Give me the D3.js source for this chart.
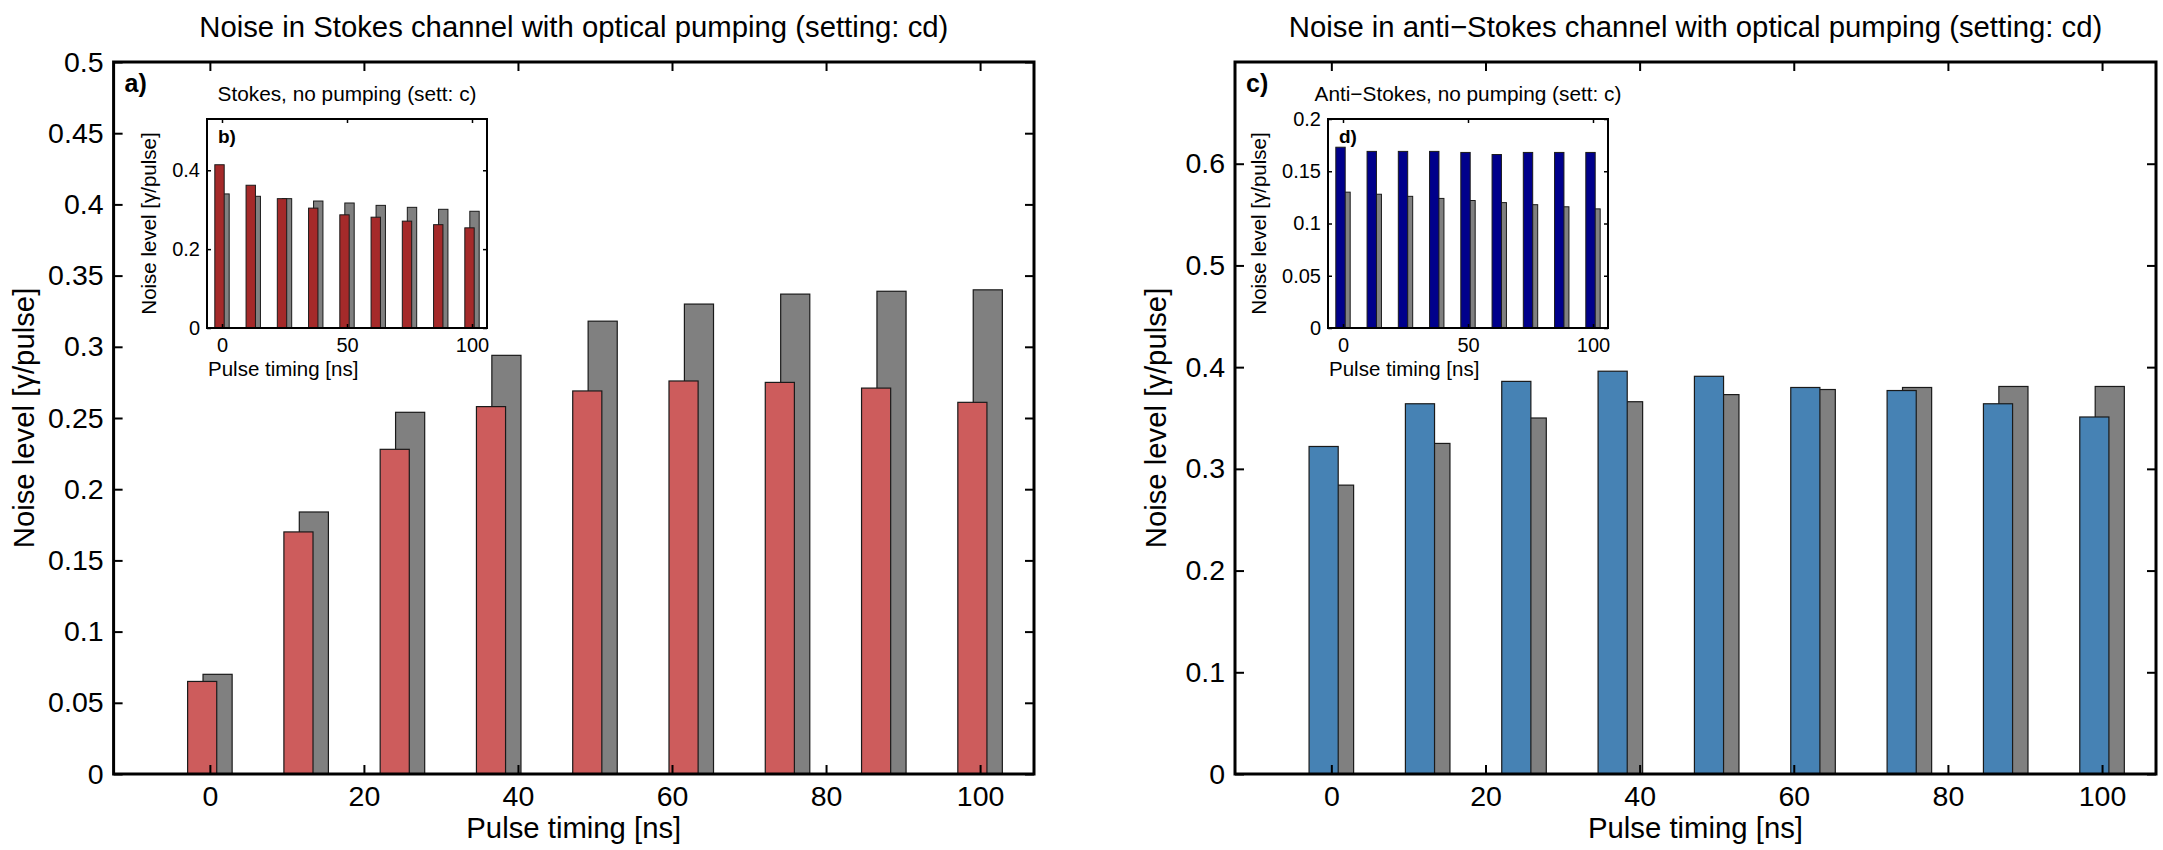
<!DOCTYPE html>
<html>
<head>
<meta charset="utf-8">
<script src="https://cdn.jsdelivr.net/npm/d3@7"></script>
<style>
  body { margin: 0; background: #fff; }
  svg text { font-family: "Liberation Sans", Arial, Helvetica, sans-serif; fill: #000; }
</style>
</head>
<body>
<svg id="chart" width="2163" height="850"></svg>
<script>

/* Noise level vs pulse timing, with and without optical pumping */

// pulse timings [ns]
let timing = [0, 12.5, 25, 37.5, 50, 62.5, 75, 87.5, 100];

// a) Stokes channel, optical pumping (setting cd) + grey reference
let stokesPumped = [0.065, 0.170, 0.228, 0.258, 0.269, 0.276, 0.275, 0.271, 0.261];
let stokesPumpedRef = [0.070, 0.184, 0.254, 0.294, 0.318, 0.330, 0.337, 0.339, 0.340];

// b) Stokes, no pumping (setting c)
let stokesNoPump = [0.414, 0.362, 0.328, 0.304, 0.287, 0.281, 0.271, 0.262, 0.254];
let stokesNoPumpRef = [0.340, 0.334, 0.328, 0.322, 0.317, 0.311, 0.306, 0.301, 0.296];

// c) anti-Stokes channel, optical pumping (setting cd)
let antiPumped = [0.322, 0.364, 0.386, 0.396, 0.391, 0.380, 0.377, 0.364, 0.351];
let antiPumpedRef = [0.284, 0.325, 0.350, 0.366, 0.373, 0.378, 0.380, 0.381, 0.381];

// d) anti-Stokes, no pumping (setting c)
let antiNoPump = [0.173, 0.169, 0.169, 0.169, 0.168, 0.166, 0.168, 0.168, 0.168];
let antiNoPumpRef = [0.130, 0.128, 0.126, 0.124, 0.122, 0.120, 0.118, 0.116, 0.114];

// tick values
let xTicksMain = [0, 20, 40, 60, 80, 100];
let xTicksInset = [0, 50, 100];
let yTicksA = [0, 0.05, 0.1, 0.15, 0.2, 0.25, 0.3, 0.35, 0.4, 0.45, 0.5];
let yTicksB = [0, 0.2, 0.4];
let yTicksC = [0, 0.1, 0.2, 0.3, 0.4, 0.5, 0.6];
let yTicksD = [0, 0.05, 0.1, 0.15, 0.2];

let svg = d3.select("#chart");

function drawAxes(cfg) {
    let g = svg.append("g");

    let xScale = d3.scaleLinear().domain(cfg.xDomain).range([cfg.left, cfg.right]);
    let yScale = d3.scaleLinear().domain(cfg.yDomain).range([cfg.bottom, cfg.top]);

    // white background (insets sit on top of the main plot)
    g.append("rect")
        .attr("x", cfg.left).attr("y", cfg.top)
        .attr("width", cfg.right - cfg.left)
        .attr("height", cfg.bottom - cfg.top)
        .attr("fill", "#fff");

    let unit = xScale(1) - xScale(0);

    // grey reference bars first, coloured ones on top
    g.selectAll(".ref")
        .data(cfg.ref)
        .enter()
        .append("rect")
        .attr("x", function (d, i) { return xScale(timing[i] + 1 - cfg.barW / 2); })
        .attr("y", function (d) { return yScale(d); })
        .attr("width", cfg.barW * unit)
        .attr("height", function (d) { return yScale(0) - yScale(d); })
        .attr("fill", "#808080")
        .attr("stroke", "#1a1a1a")
        .attr("stroke-width", cfg.barStroke);

    g.selectAll(".val")
        .data(cfg.values)
        .enter()
        .append("rect")
        .attr("x", function (d, i) { return xScale(timing[i] - 1 - cfg.barW / 2); })
        .attr("y", function (d) { return yScale(d); })
        .attr("width", cfg.barW * unit)
        .attr("height", function (d) { return yScale(0) - yScale(d); })
        .attr("fill", cfg.color)
        .attr("stroke", "#1a1a1a")
        .attr("stroke-width", cfg.barStroke);

    // axes, ticks pointing inward
    let fmt = function (d) { return String(d); };
    let axes = [
        { ax: d3.axisBottom(xScale).tickValues(cfg.xTicks).tickFormat(fmt), tr: "translate(0," + cfg.bottom + ")" },
        { ax: d3.axisTop(xScale).tickValues(cfg.xTicks).tickFormat(""), tr: "translate(0," + cfg.top + ")" },
        { ax: d3.axisLeft(yScale).tickValues(cfg.yTicks).tickFormat(fmt), tr: "translate(" + cfg.left + ",0)" },
        { ax: d3.axisRight(yScale).tickValues(cfg.yTicks).tickFormat(""), tr: "translate(" + cfg.right + ",0)" }
    ];
    axes.forEach(function (a, k) {
        let ga = g.append("g")
            .attr("transform", a.tr)
            .call(a.ax.tickSizeInner(-cfg.tickLen).tickSizeOuter(0).tickPadding(k == 0 ? cfg.xPad : cfg.yPad));
        ga.select(".domain").remove();
        ga.selectAll(".tick line").attr("stroke", "#000").attr("stroke-width", cfg.tickWidth);
        ga.selectAll(".tick text")
            .attr("font-size", cfg.tickFont)
            .attr("font-family", null);
    });

    g.append("rect")
        .attr("x", cfg.left).attr("y", cfg.top)
        .attr("width", cfg.right - cfg.left)
        .attr("height", cfg.bottom - cfg.top)
        .attr("fill", "none")
        .attr("stroke", "#000")
        .attr("stroke-width", cfg.boxWidth);

    // title
    g.append("text")
        .attr("x", (cfg.left + cfg.right) / 2)
        .attr("y", cfg.titleY)
        .attr("text-anchor", "middle")
        .attr("font-size", cfg.titleFont)
        .text(cfg.title);

    // x label
    g.append("text")
        .attr("x", cfg.xLabelAnchor == "start" ? cfg.left + 1 : (cfg.left + cfg.right) / 2)
        .attr("y", cfg.xLabelY)
        .attr("text-anchor", cfg.xLabelAnchor)
        .attr("font-size", cfg.labelFont)
        .text("Pulse timing [ns]");

    // y label
    let cy = (cfg.top + cfg.bottom) / 2;
    g.append("text")
        .attr("transform", "translate(" + (cfg.left - cfg.yLabelOff) + "," + cy + ") rotate(-90)")
        .attr("text-anchor", "middle")
        .attr("font-size", cfg.labelFont)
        .text("Noise level [γ/pulse]");

    // panel letter
    g.append("text")
        .attr("x", cfg.left + 11)
        .attr("y", cfg.letterY)
        .attr("font-size", cfg.letterFont)
        .attr("font-weight", "bold")
        .text(cfg.letter);
}

let mainStyle = {
    xDomain: [-12.5, 107], top: 62, bottom: 774,
    barW: 3.78, barStroke: 1.2, tickLen: 9, tickWidth: 2, boxWidth: 3,
    tickFont: 28.5, xPad: 12, yPad: 10, titleFont: 29.3, titleY: 37,
    labelFont: 29.3, xLabelY: 838, xLabelAnchor: "middle",
    letterY: 92, letterFont: 25, xTicks: xTicksMain
};
let insetStyle = {
    xDomain: [-6, 106], top: 119, bottom: 328,
    barW: 3.75, barStroke: 1, tickLen: 4, tickWidth: 1.5, boxWidth: 2,
    tickFont: 20, xPad: 10, yPad: 7, titleFont: 20.8, titleY: 101,
    labelFont: 20.5, xLabelY: 376, xLabelAnchor: "start",
    letterY: 143, letterFont: 19, xTicks: xTicksInset
};

// a) main Stokes
drawAxes(Object.assign({}, mainStyle, {
    left: 113.6, right: 1034, yDomain: [0, 0.5], yTicks: yTicksA, yLabelOff: 80,
    values: stokesPumped, ref: stokesPumpedRef, color: "#CD5C5C",
    title: "Noise in Stokes channel with optical pumping (setting: cd)", letter: "a)"
}));

// c) main anti-Stokes
drawAxes(Object.assign({}, mainStyle, {
    left: 1235, right: 2156, yDomain: [0, 0.7], yTicks: yTicksC, yLabelOff: 69,
    values: antiPumped, ref: antiPumpedRef, color: "#4682B4",
    title: "Noise in anti\u2212Stokes channel with optical pumping (setting: cd)", letter: "c)"
}));

// b) inset Stokes, no pumping
drawAxes(Object.assign({}, insetStyle, {
    left: 207, right: 487, yDomain: [0, 0.53], yTicks: yTicksB, yLabelOff: 51,
    values: stokesNoPump, ref: stokesNoPumpRef, color: "#A52A2A",
    title: "Stokes, no pumping (sett: c)", letter: "b)"
}));

// d) inset anti-Stokes, no pumping
drawAxes(Object.assign({}, insetStyle, {
    left: 1328, right: 1608, yDomain: [0, 0.2], yTicks: yTicksD, yLabelOff: 62,
    values: antiNoPump, ref: antiNoPumpRef, color: "#00008B",
    title: "Anti\u2212Stokes, no pumping (sett: c)", letter: "d)"
}));

</script>
</body>
</html>
